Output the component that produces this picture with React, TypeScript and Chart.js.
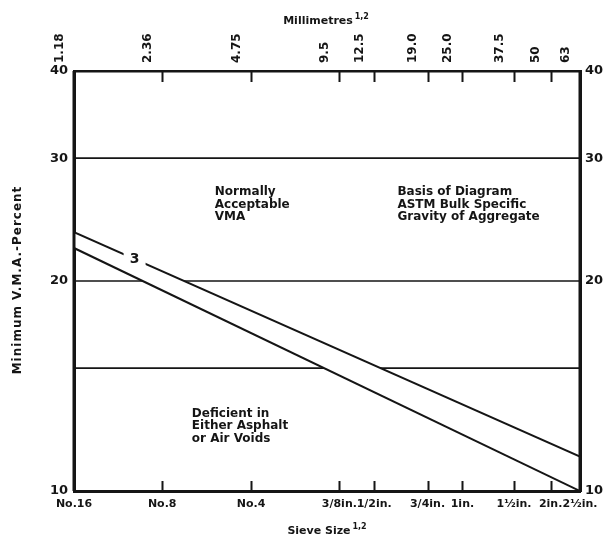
import React, { useEffect, useRef } from 'react';
import { Chart, registerables } from 'chart.js';

Chart.register(...registerables);

// ---- data ----
const sieveMm = [1.18, 2.36, 4.75, 9.5, 12.5, 19.0, 25.0, 37.5, 50, 63];
const mmLabels = ['1.18', '2.36', '4.75', '9.5', '12.5', '19.0', '25.0', '37.5', '50', '63'];
const sieveLabels = ['No.16', 'No.8', 'No.4', '3/8in.', '1/2in.', '3/4in.', '1in.', '1½in.', '2in.', '2½in.'];
const vmaTicks = [10, 20, 30, 40];
const bandX = [1.18, 63];
const upperVma = [23.5, 11.2];
const lowerVma = [22.3, 10.0];
const refLevels = [30, 20, 15];
const curveLabel = '3';
const curveLabelX = 1.9;
const notes = [
  { x: 3.57, y: 26.8, lines: ['Normally', 'Acceptable', 'VMA'] },
  { x: 15.0, y: 26.8, lines: ['Basis of Diagram', 'ASTM Bulk Specific', 'Gravity of Aggregate'] },
  { x: 2.98, y: 12.9, lines: ['Deficient in', 'Either Asphalt', 'or Air Voids'] },
];
const xTitle = 'Sieve Size';
const x2Title = 'Millimetres';
const titleSup = '1,2';
const yTitle = 'Minimum V.M.A.-Percent';

const INK = '#151515';
const FAMILY = '"DejaVu Sans", sans-serif';

function drawWithSup(ctx: CanvasRenderingContext2D, text: string, sup: string, cx: number, y: number, size: number) {
  ctx.save();
  ctx.font = `bold ${size}px ${FAMILY}`;
  const w1 = ctx.measureText(text + ' ').width;
  ctx.font = `bold ${Math.round(size * 0.7)}px ${FAMILY}`;
  const w2 = ctx.measureText(sup).width;
  const x0 = cx - (w1 + w2) / 2;
  ctx.fillStyle = INK;
  ctx.textBaseline = 'alphabetic';
  ctx.textAlign = 'left';
  ctx.font = `bold ${size}px ${FAMILY}`;
  ctx.fillText(text, x0, y);
  ctx.font = `bold ${Math.round(size * 0.7)}px ${FAMILY}`;
  ctx.fillText(sup, x0 + w1 - 2, y - size * 0.45);
  ctx.restore();
}

const overlay = {
  id: 'overlay',
  afterDatasetsDraw(chart: any) {
    const { ctx, scales } = chart;
    const xs = scales.x;
    const ys = scales.y;
    // label on upper curve, interpolated on the log-log line
    const t = Math.log(curveLabelX / bandX[0]) / Math.log(bandX[1] / bandX[0]);
    const ly = Math.exp(Math.log(upperVma[0]) + t * (Math.log(upperVma[1]) - Math.log(upperVma[0])));
    const px = xs.getPixelForValue(curveLabelX);
    const py = ys.getPixelForValue(ly);
    ctx.save();
    ctx.font = `bold 14px ${FAMILY}`;
    ctx.fillStyle = '#fff';
    ctx.fillRect(px - 11, py - 9, 22, 18);
    ctx.fillStyle = INK;
    ctx.textAlign = 'center';
    ctx.textBaseline = 'middle';
    ctx.fillText(curveLabel, px, py);
    ctx.restore();
  },
  afterDraw(chart: any) {
    const { ctx, scales, chartArea } = chart;
    const xs = scales.x;
    const ys = scales.y;
    ctx.save();
    // re-stroke side borders over the band's white fill
    ctx.strokeStyle = INK;
    ctx.lineWidth = 3;
    ctx.beginPath();
    ctx.moveTo(chartArea.left, chartArea.top);
    ctx.lineTo(chartArea.left, chartArea.bottom);
    ctx.moveTo(chartArea.right, chartArea.top);
    ctx.lineTo(chartArea.right, chartArea.bottom);
    ctx.stroke();
    // inward tick marks
    ctx.lineWidth = 2;
    sieveMm.slice(1, -1).forEach((v) => {
      const p = Math.round(xs.getPixelForValue(v)) + 0.5;
      ctx.beginPath();
      ctx.moveTo(p, chartArea.bottom);
      ctx.lineTo(p, chartArea.bottom - 10);
      ctx.moveTo(p, chartArea.top);
      ctx.lineTo(p, chartArea.top + 11);
      ctx.stroke();
    });
    // notes
    ctx.fillStyle = INK;
    ctx.font = `bold 12px ${FAMILY}`;
    ctx.textAlign = 'left';
    ctx.textBaseline = 'middle';
    notes.forEach((n) => {
      const nx = xs.getPixelForValue(n.x);
      const ny = ys.getPixelForValue(n.y);
      n.lines.forEach((line, i) => ctx.fillText(line, nx, ny + i * 12.5));
    });
    // axis titles
    drawWithSup(ctx, x2Title, titleSup, 327, 24, 11);
    drawWithSup(ctx, xTitle, titleSup, 328, 534, 11);
    ctx.translate(18, 280);
    ctx.rotate(-Math.PI / 2);
    ctx.font = `bold 12px ${FAMILY}`;
    (ctx as any).letterSpacing = '1px';
    ctx.textAlign = 'center';
    ctx.textBaseline = 'middle';
    ctx.fillText(yTitle, 0, 0);
    ctx.restore();
  },
};

export default function App() {
  const ref = useRef<HTMLCanvasElement | null>(null);

  useEffect(() => {
    document.body.style.margin = '0';
    const canvas = ref.current;
    if (!canvas) return;

    const line = (vals: number[]) => bandX.map((x, i) => ({ x, y: vals[i] }));
    const flat = (v: number) => bandX.map((x) => ({ x, y: v }));

    const datasets: any[] = [
      { label: 'upper', data: line(upperVma), borderColor: INK, borderWidth: 2, pointRadius: 0, fill: false, order: 0 },
      { label: 'lower', data: line(lowerVma), borderColor: INK, borderWidth: 2, pointRadius: 0, fill: false, order: 0 },
      { label: 'band', data: line(upperVma), borderColor: 'rgba(0,0,0,0)', borderWidth: 0, pointRadius: 0, backgroundColor: '#ffffff', fill: 1, order: 1 },
      ...refLevels.map((v) => ({ label: `ref ${v}`, data: flat(v), borderColor: INK, borderWidth: 1.6, pointRadius: 0, fill: false, order: 2 })),
    ];

    const tickFont = { family: FAMILY, weight: 'bold' as const };

    const chart = new Chart(canvas, {
      type: 'line',
      data: { datasets },
      options: {
        responsive: false,
        animation: false,
        layout: { padding: 0 },
        plugins: { legend: { display: false }, tooltip: { enabled: false } },
        scales: {
          x: {
            type: 'logarithmic',
            position: 'bottom',
            min: sieveMm[0],
            max: sieveMm[sieveMm.length - 1],
            grid: { display: false, drawTicks: false },
            border: { display: true, width: 3, color: INK },
            afterBuildTicks: (s: any) => { s.ticks = sieveMm.map((v) => ({ value: v })); },
            afterFit: (s: any) => { s.height = 47; },
            ticks: {
              autoSkip: false, maxRotation: 0, minRotation: 0, padding: 7, color: INK,
              font: { ...tickFont, size: 11 },
              callback: (_v: any, i: number) => sieveLabels[i],
            },
          },
          x2: {
            type: 'logarithmic',
            position: 'top',
            min: sieveMm[0],
            max: sieveMm[sieveMm.length - 1],
            grid: { display: false, drawTicks: false },
            border: { display: true, width: 2.5, color: INK },
            afterBuildTicks: (s: any) => { s.ticks = sieveMm.map((v) => ({ value: v })); },
            afterFit: (s: any) => { s.height = 71; },
            ticks: {
              autoSkip: false, maxRotation: 90, minRotation: 90, padding: 8, color: INK,
              font: { ...tickFont, size: 12 },
              callback: (_v: any, i: number) => mmLabels[i],
            },
          },
          y: {
            type: 'logarithmic',
            position: 'left',
            min: vmaTicks[0],
            max: vmaTicks[vmaTicks.length - 1],
            grid: { display: false, drawTicks: false },
            border: { display: true, width: 3, color: INK },
            afterBuildTicks: (s: any) => { s.ticks = vmaTicks.map((v) => ({ value: v })); },
            afterFit: (s: any) => { s.width = 74; },
            ticks: {
              autoSkip: false, padding: 6, color: INK,
              font: { ...tickFont, size: 13 },
              callback: (v: any) => String(v),
            },
          },
          y2: {
            type: 'logarithmic',
            position: 'right',
            min: vmaTicks[0],
            max: vmaTicks[vmaTicks.length - 1],
            grid: { display: false, drawTicks: false },
            border: { display: true, width: 3, color: INK },
            afterBuildTicks: (s: any) => { s.ticks = vmaTicks.map((v) => ({ value: v })); },
            afterFit: (s: any) => { s.width = 31; },
            ticks: {
              autoSkip: false, padding: 5, color: INK,
              font: { ...tickFont, size: 13 },
              callback: (v: any) => String(v),
            },
          },
        },
      } as any,
      plugins: [overlay],
    });

    return () => chart.destroy();
  }, []);

  return (
    <div style={{ position: 'fixed', left: 0, top: 0, width: 611, height: 538, background: '#fff' }}>
      <canvas ref={ref} width={611} height={538} style={{ display: 'block' }} />
    </div>
  );
}
